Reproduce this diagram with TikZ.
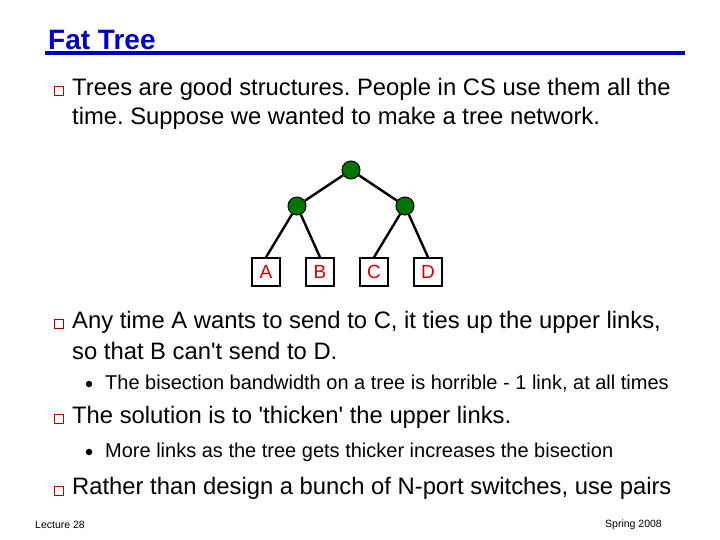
\documentclass[tikz,border=0pt]{standalone}
\usepackage{fontspec}
\setmainfont{Liberation Sans}
\frenchspacing
\begin{document}
\begin{tikzpicture}[x=1pt,y=-1pt,
  txt/.style={anchor=west,inner sep=0pt,font=\fontsize{23.8}{28}\selectfont},
  sub/.style={anchor=west,inner sep=0pt,font=\fontsize{20}{24}\selectfont},
  sq/.style={draw=red!70!black,fill=white,line width=1.5pt,minimum size=9pt,inner sep=0pt},
  dot/.style={circle,fill=black,minimum size=6.5pt,inner sep=0pt},
  sw/.style={circle,draw=black,fill=green!45!black,line width=1pt,minimum size=18pt,inner sep=0pt},
  leaf/.style={draw=black,line width=1.5pt,minimum size=28pt,inner sep=0pt,text=red!80!black,font=\fontsize{19}{22}\selectfont},
  ln/.style={line width=2.4pt}]
\useasboundingbox (0,0) rectangle (720,540);
\node[anchor=base west,inner sep=0pt,text=blue!75!black,font=\fontsize{28}{32}\selectfont\bfseries] (title) at (48,50) {Fat Tree};
\draw[blue!75!black,line width=4.5pt] (45,53) -- (685,53);
\node[sq] (b1) at (59,91) {};
\node[txt] (t1) at (72,89) {Trees are good structures. People in CS use them all the};
\node[txt] (t1b) at (72,118) {time. Suppose we wanted to make a tree network.};
\node[sw] (r) at (351,170) {};
\node[sw] (l) at (297,206) {};
\node[sw] (rr) at (405,206) {};
\node[leaf] (A) at (266,272) {A};
\node[leaf] (B) at (320,272) {B};
\node[leaf] (C) at (374,272) {C};
\node[leaf] (D) at (428,272) {D};
\draw[ln] (r) -- (l); \draw[ln] (r) -- (rr);
\draw[ln] (l) -- (A.north); \draw[ln] (l) -- (B.north);
\draw[ln] (rr) -- (C.north); \draw[ln] (rr) -- (D.north);
\node[sq] (b2) at (59,324) {};
\node[txt] (t2) at (72,322) {Any time A wants to send to C, it ties up the upper links,};
\node[txt] (t2b) at (72,351) {so that B can\textquotesingle t send to D.};
\node[dot] (d1) at (89,384) {};
\node[sub] (s1) at (105,384) {The bisection bandwidth on a tree is horrible - 1 link, at all times};
\node[sq] (b3) at (59,419) {};
\node[txt] (t3) at (72,417) {The solution is to \textquotesingle thicken\textquotesingle{} the upper links.};
\node[dot] (d2) at (89,452) {};
\node[sub] (s2) at (105,452) {More links as the tree gets thicker increases the bisection};
\node[sq] (b4) at (59,491) {};
\node[txt] (t4) at (72,488) {Rather than design a bunch of N-port switches, use pairs};
\node[anchor=west,inner sep=0pt,font=\fontsize{10.5}{12}\selectfont] (f1) at (35,525) {Lecture 28};
\node[anchor=east,inner sep=0pt,font=\fontsize{10.5}{12}\selectfont] (f2) at (662,525) {Spring 2008};
\end{tikzpicture}
\end{document}
